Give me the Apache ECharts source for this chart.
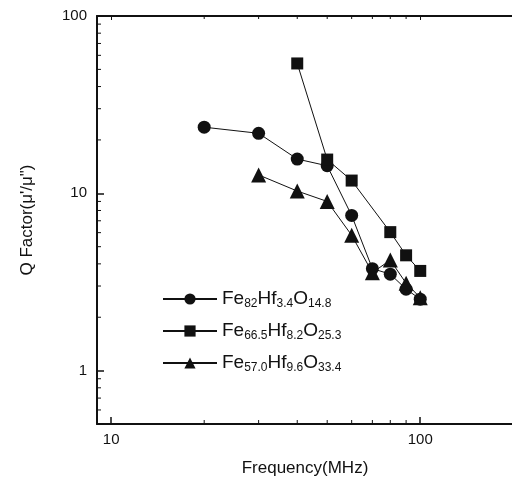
<!DOCTYPE html>
<html>
<head>
<meta charset="utf-8">
<script src="https://cdn.jsdelivr.net/npm/echarts@6/dist/echarts.min.js"></script>
<style>
  html, body { margin: 0; padding: 0; background: #fff; }
  #main { width: 512px; height: 483px; }
</style>
</head>
<body>
<div id="main"></div>
<script>
// frequencies (MHz) and Q factor for each composition
var freqA = [20, 30, 40, 50, 60, 70, 80, 90, 100];
var qA = [23.6, 21.8, 15.6, 14.3, 7.5, 3.76, 3.5, 2.88, 2.53];

var freqB = [40, 50, 60, 80, 90, 100];
var qB = [54, 15.5, 11.8, 6.04, 4.47, 3.65];

var freqC = [30, 40, 50, 60, 70, 80, 90, 100];
var qC = [12.7, 10.3, 9.0, 5.8, 3.57, 4.2, 3.11, 2.58];

var names = ['Fe82Hf3.4O14.8', 'Fe66.5Hf8.2O25.3', 'Fe57.0Hf9.6O33.4'];
var legendRich = {
    'Fe82Hf3.4O14.8': '{m|Fe}{s|82}{m|Hf}{s|3.4}{m|O}{s|14.8}',
    'Fe66.5Hf8.2O25.3': '{m|Fe}{s|66.5}{m|Hf}{s|8.2}{m|O}{s|25.3}',
    'Fe57.0Hf9.6O33.4': '{m|Fe}{s|57.0}{m|Hf}{s|9.6}{m|O}{s|33.4}'
};

// the right end of the frame is cut off by the picture edge
var xMin = 9, xMax = 215, yMin = 0.5, yMax = 100;
// minor tick positions for the log axes
var xMinorTicks = [20, 30, 40, 50, 60, 70, 80, 90];
var yMinorTicks = [0.6, 0.7, 0.8, 0.9, 2, 3, 4, 5, 6, 7, 8, 9, 20, 30, 40, 50, 60, 70, 80, 90];

function zip(xs, ys) {
    return xs.map(function (x, i) { return [x, ys[i]]; });
}

function decadeLabel(v) {
    var l = Math.log10(v);
    return Math.abs(l - Math.round(l)) < 1e-6 ? String(Math.round(v)) : '';
}

var font = 'Liberation Sans, Arial, sans-serif';

function lineSeries(name, data, symbol, size) {
    return {
        name: name, type: 'line', data: data, symbol: symbol, symbolSize: size,
        lineStyle: {color: '#111', width: 1},
        itemStyle: {color: '#111'},
        z: 3
    };
}

var option = {
    animation: false,
    backgroundColor: '#fff',
    grid: {left: 97, top: 16, width: 426, bottom: 59, outerBoundsMode: 'none', containLabel: false},
    legend: {
        orient: 'vertical', left: 157, top: 283, itemGap: 10,
        itemWidth: 54, itemHeight: 14,
        data: names,
        formatter: function (n) { return legendRich[n]; },
        textStyle: {
            fontFamily: font, color: '#111',
            rich: {
                m: {fontSize: 19, fontFamily: font, color: '#111', lineHeight: 22, verticalAlign: 'middle'},
                s: {fontSize: 12, fontFamily: font, color: '#111', lineHeight: 12, verticalAlign: 'bottom', padding: [10, 0, 0, 0]}
            }
        }
    },
    xAxis: [{
        type: 'log', min: xMin, max: xMax,
        name: 'Frequency(MHz)', nameLocation: 'middle', nameGap: 36,
        nameTextStyle: {fontFamily: font, fontSize: 17, color: '#111', padding: [0, 10, 0, 0]},
        axisLine: {lineStyle: {color: '#111', width: 2}},
        axisTick: {inside: true, length: 7, lineStyle: {color: '#111', width: 1.5}},
        axisLabel: {formatter: decadeLabel, fontFamily: font, fontSize: 15, color: '#111', margin: 8},
        splitLine: {show: false}
    }, {
        type: 'log', min: xMin, max: xMax, position: 'top',
        axisLine: {lineStyle: {color: '#111', width: 2}},
        axisTick: {inside: true, length: 4, lineStyle: {color: '#111', width: 1}},
        axisLabel: {show: false},
        splitLine: {show: false}
    }],
    yAxis: {
        type: 'log', min: yMin, max: yMax,
        name: 'Q Factor(\u03bc\'/\u03bc")', nameLocation: 'middle', nameGap: 61,
        nameTextStyle: {fontFamily: font, fontSize: 17, color: '#111'},
        axisLine: {lineStyle: {color: '#111', width: 2}},
        axisTick: {inside: true, length: 7, lineStyle: {color: '#111', width: 1.5}},
        axisLabel: {formatter: decadeLabel, fontFamily: font, fontSize: 15, color: '#111', margin: 10},
        splitLine: {show: false}
    },
    series: [
        lineSeries(names[0], zip(freqA, qA), 'circle', 13),
        lineSeries(names[1], zip(freqB, qB), 'rect', 12),
        lineSeries(names[2], zip(freqC, qC), 'triangle', 15),
        {
            // minor ticks on the bottom and top x axis
            type: 'custom', silent: true, clip: false,
            data: xMinorTicks.map(function (v) { return [v, yMin]; }),
            renderItem: function (params, api) {
                var b = api.coord([api.value(0), yMin]);
                var t = api.coord([api.value(0), yMax]);
                return {type: 'group', children: [
                    {type: 'line', shape: {x1: b[0], y1: b[1], x2: b[0], y2: b[1] - 4}, style: {stroke: '#111', lineWidth: 1}},
                    {type: 'line', shape: {x1: t[0], y1: t[1], x2: t[0], y2: t[1] + 3}, style: {stroke: '#111', lineWidth: 1}}
                ]};
            }
        },
        {
            // minor ticks on the y axis
            type: 'custom', silent: true, clip: false,
            data: yMinorTicks.map(function (v) { return [xMin, v]; }),
            renderItem: function (params, api) {
                var p = api.coord([xMin, api.value(1)]);
                return {type: 'line', shape: {x1: p[0], y1: p[1], x2: p[0] + 4, y2: p[1]}, style: {stroke: '#111', lineWidth: 1}};
            }
        }
    ]
};

var myChart = echarts.init(document.getElementById('main'));
myChart.setOption(option);
</script>
</body>
</html>
